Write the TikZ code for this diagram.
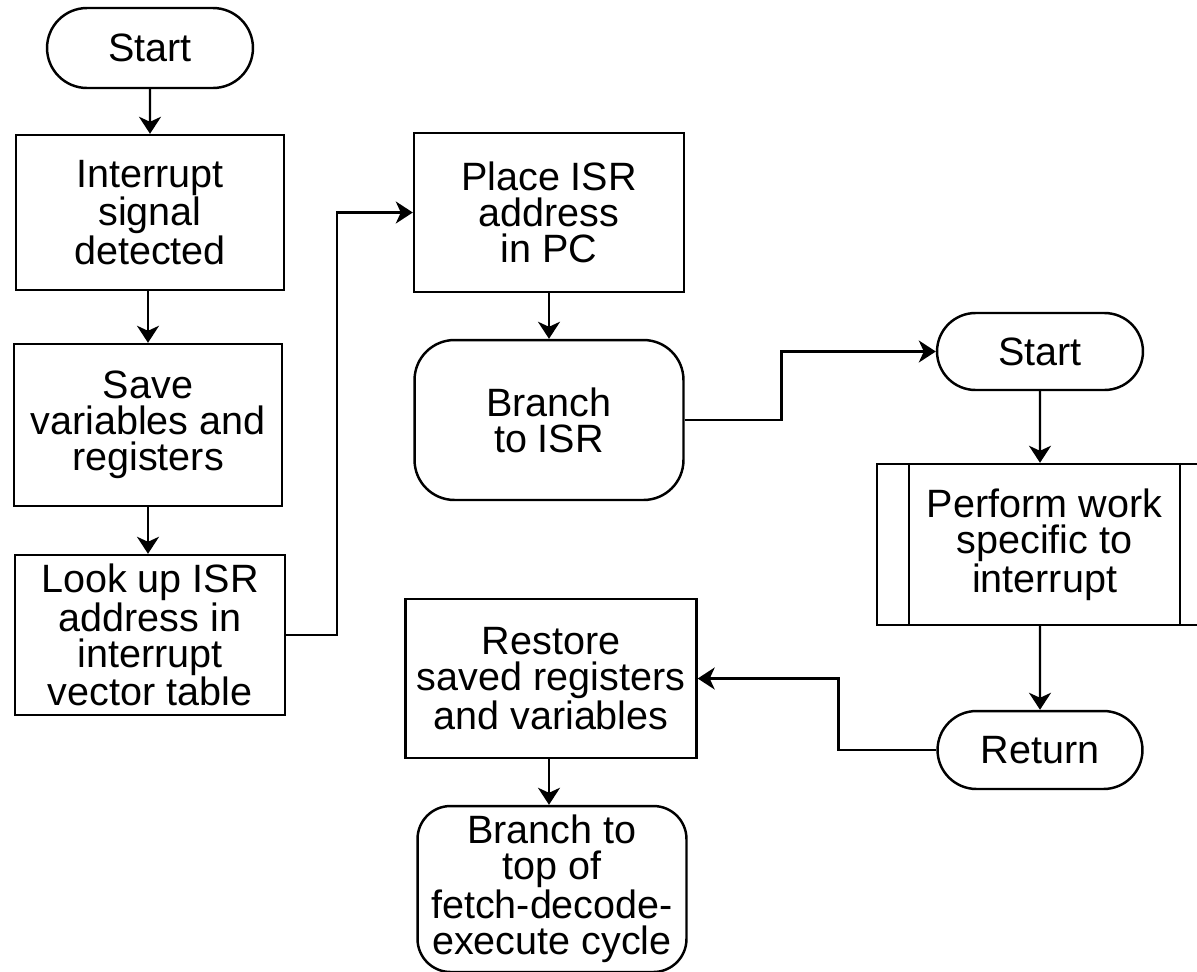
\documentclass[tikz,border=0pt]{standalone}
\usepackage{fontspec}
\setmainfont{Liberation Sans}
\usetikzlibrary{shapes.misc, arrows.meta}

\tikzset{
    % Node styles
    stepbox/.style={
        rectangle,
        draw=black,
        line width=1.4pt,
        fill=white,
        minimum width=5.4cm,
        minimum height=3.2cm,
        align=center,
        inner sep=2pt,
        font=\fontsize{22.5}{20.5}\selectfont
    },
    roundbox/.style={
        stepbox,
        rounded corners=0.8cm
    },
    termbox/.style={
        stepbox,
        rounded rectangle,
        minimum width=4.26cm,
        minimum height=1.6cm
    },
    subbox/.style={
        stepbox,
        minimum width=6.7cm,
        minimum height=3.22cm
    },
    % Arrow styles
    myarrow/.style={
        ->,
        >={Stealth[length=0.34cm, width=0.44cm, inset=0.1cm]},
        line width=1.4pt,
        black
    }
}

\begin{document}
\begin{tikzpicture}[x=0.02cm, y=-0.02cm]
    \useasboundingbox (0,0) rectangle (1197,971);

    % Left column
    \node[termbox] (start1) at (150,48) {Start};
    \node[stepbox, minimum width=5.36cm, minimum height=3.1cm] (detect) at (150,212.5) {Interrupt\\signal\\detected};
    \node[stepbox, minimum width=5.36cm, minimum height=3.24cm] (save) at (148,425) {Save\\variables and\\registers};
    \node[stepbox] (lookup) at (150,635) {Look up ISR\\address in\\interrupt\\vector table};

    % Middle column
    \node[stepbox, minimum height=3.18cm] (place) at (549,212.5) {Place ISR\\address\\in PC};
    \node[roundbox, minimum width=5.38cm] (branch) at (549,420) {Branch\\to ISR};
    \node[stepbox, minimum width=5.82cm, minimum height=3.18cm] (restore) at (551,678.5) {Restore\\saved registers\\and variables};
    \node[roundbox, rounded corners=0.66cm, minimum width=5.38cm, minimum height=3.32cm] (branchtop) at (552,889) {Branch to\\top of\\fetch-decode-\\execute cycle};

    % Right column (interrupt service routine)
    \node[termbox, minimum height=1.54cm] (start2) at (1040,351.5) {Start};
    \node[subbox] (work) at (1044.5,544.5) {Perform work\\specific to\\interrupt};
    \draw[line width=1.4pt] ([xshift=0.66cm]work.north west) -- ([xshift=0.66cm]work.south west);
    \draw[line width=1.4pt] ([xshift=-0.66cm]work.north east) -- ([xshift=-0.66cm]work.south east);
    \node[termbox, minimum width=4.24cm, minimum height=1.56cm] (return) at (1040,750) {Return};

    % Connectors
    \draw[myarrow] (start1) -- (detect);
    \draw[myarrow] (detect.south -| save.north) -- (save.north);
    \draw[myarrow] (save.south) -- (save.south |- lookup.north);
    \draw[myarrow] (lookup.east) -- ++(51,0) |- (place.west);
    \draw[myarrow] (place) -- (branch);
    \draw[myarrow] (branch.east) -- ++(97,0) |- (start2.west);
    \draw[myarrow] (start2) -- (start2 |- work.north);
    \draw[myarrow] (start2 |- work.south) -- (return);
    \draw[myarrow] (return.west) -- ++(-98,0) |- (restore.east);
    \draw[myarrow] (restore.south -| branch) -- (branch |- branchtop.north);
\end{tikzpicture}
\end{document}
